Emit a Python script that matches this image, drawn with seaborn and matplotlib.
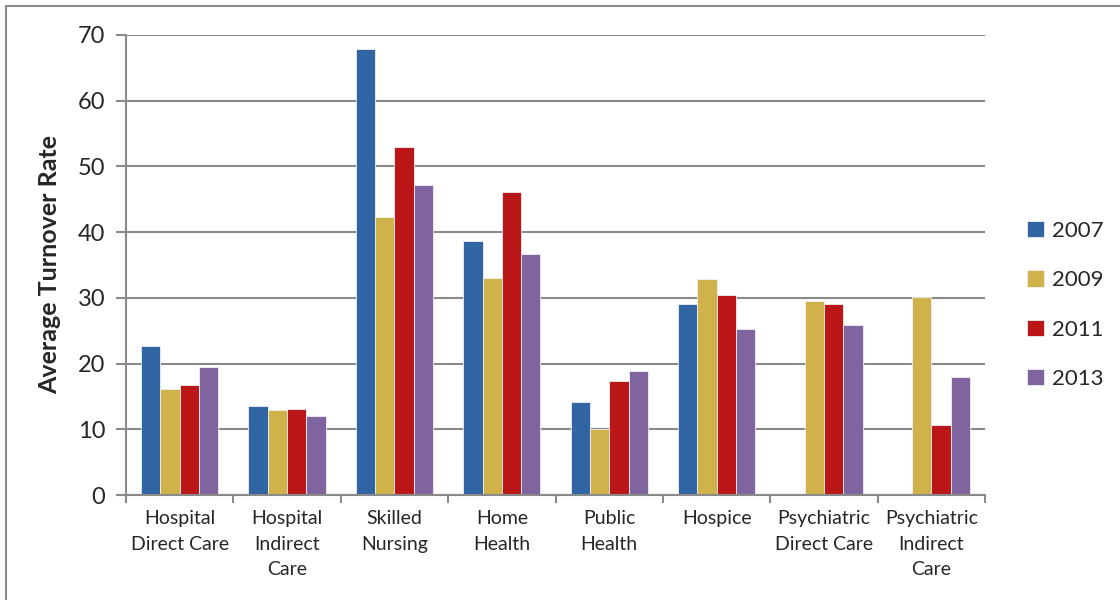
import pandas as pd
import numpy as np
import matplotlib
matplotlib.use('Agg')
import matplotlib.pyplot as plt
import seaborn as sns
from matplotlib.lines import Line2D


categories = ['Hospital\nDirect Care', 'Hospital\nIndirect\nCare', 'Skilled\nNursing',
              'Home\nHealth', 'Public\nHealth', 'Hospice',
              'Psychiatric\nDirect Care', 'Psychiatric\nIndirect\nCare']
years = ['2007', '2009', '2011', '2013']

rate_2007 = [22.7, 13.5, 67.8, 38.7, 14.1, 29.1, np.nan, np.nan]
rate_2009 = [16.2, 12.9, 42.3, 33.0, 10.0, 32.9, 29.5, 30.1]
rate_2011 = [16.7, 13.1, 52.9, 46.1, 17.4, 30.4, 29.0, 10.7]
rate_2013 = [19.5, 12.0, 47.2, 36.6, 18.8, 25.2, 25.9, 17.9]

colors = ['#3164A3', '#CFB24A', '#BC1718', '#8064A0']

rows = []
for year, vals in zip(years, [rate_2007, rate_2009, rate_2011, rate_2013]):
    for cat, v in zip(categories, vals):
        rows.append({'category': cat, 'year': year, 'rate': v})
data = pd.DataFrame(rows)

sns.set_style('white')
plt.rcParams['font.family'] = ['Lato', 'DejaVu Sans']

fig = plt.figure(figsize=(11.2, 6), dpi=100)
ax = fig.add_axes([0.1125, 0.175, 0.767, 0.7667])

sns.barplot(data=data, x='category', y='rate', hue='year', order=categories,
            hue_order=years, palette=colors, width=0.72, saturation=1,
            edgecolor='#f0f0f0', linewidth=0.6, errorbar=None, ax=ax)

ax.set_ylim(0, 70)
ax.set_xlim(-0.5, len(categories) - 0.5)
ax.set_yticks(range(0, 71, 10))
ax.yaxis.grid(True, color='#8a8a8a', linewidth=1.5)
ax.set_axisbelow(True)
for side in ['top', 'right']:
    ax.spines[side].set_visible(False)
for side in ['left', 'bottom']:
    ax.spines[side].set_color('#8a8a8a')
    ax.spines[side].set_linewidth(1.5)

ax.tick_params(axis='y', which='major', length=7, width=1.5, color='#8a8a8a',
               labelsize=17, pad=8, left=True)
ax.set_xticks(np.arange(-0.5, len(categories), 1.0), minor=True)
ax.tick_params(axis='x', which='minor', length=6, width=1.5, color='#8a8a8a', bottom=True)
ax.tick_params(axis='x', which='major', length=0, labelsize=14, pad=11)
for lbl in ax.get_xticklabels():
    lbl.set_linespacing(1.6)

ax.set_xlabel('')
ax.set_ylabel('Average Turnover Rate', fontsize=18, fontweight='bold', labelpad=12)

handles, labels = ax.get_legend_handles_labels()
ax.legend(handles, labels, loc='center left', bbox_to_anchor=(1.026, 0.413),
          frameon=False, fontsize=16, handlelength=0.75, handleheight=0.75,
          handletextpad=0.35, labelspacing=1.32)

# chart area border (top and left edges visible in the reference)
fig.add_artist(Line2D([6 / 1120, 1.0], [1 - 6 / 600, 1 - 6 / 600], color='#8a8a8a', linewidth=1.5))
fig.add_artist(Line2D([6 / 1120, 6 / 1120], [0.0, 1 - 6 / 600], color='#8a8a8a', linewidth=1.5))

plt.savefig('out.png', dpi=100)
